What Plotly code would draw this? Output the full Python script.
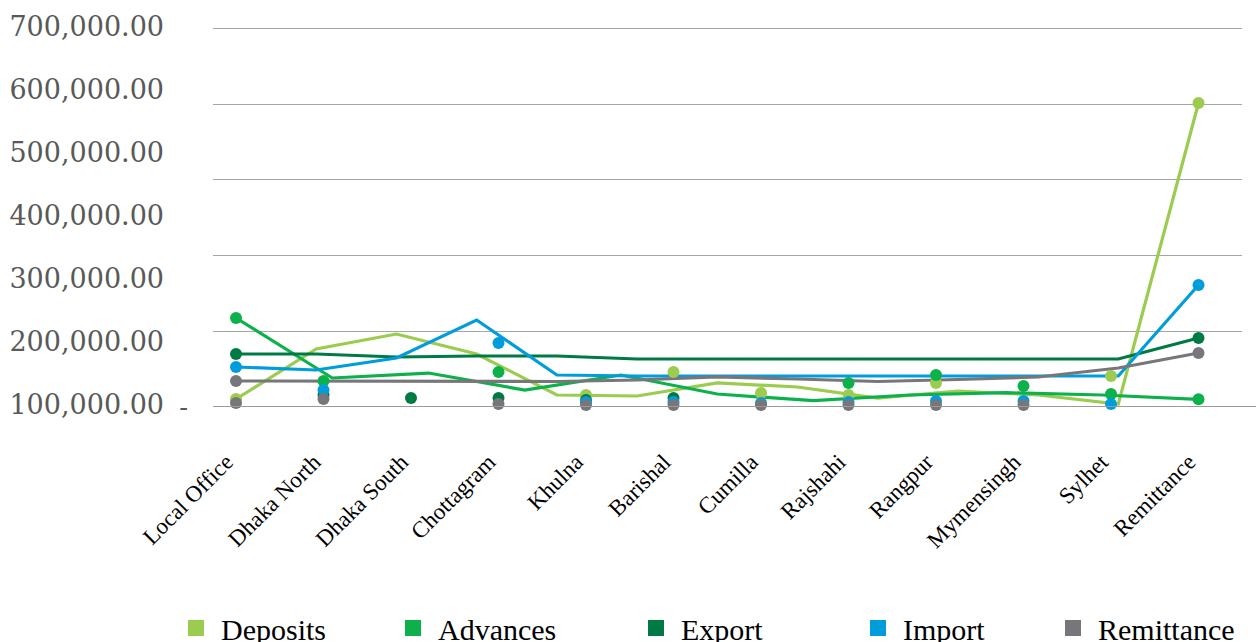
import plotly.graph_objects as go

branches = ["Local Office", "Dhaka North", "Dhaka South", "Chottagram", "Khulna", "Barishal",
            "Cumilla", "Rajshahi", "Rangpur", "Mymensingh", "Sylhet", "Remittance"]
series_names = ["Deposits", "Advances", "Export", "Import", "Remittance"]
colors = ["#9BCB4F", "#0DB14B", "#007A45", "#009DDC", "#77777B"]

# Trend profiles (evenly spread across the branch axis)
deposits_line = [14800, 107200, 134900, 98000, 22200, 20300, 44400, 37000, 16600, 29600, 22200, 5500, 561900]
advances_line = [164500, 53600, 62800, 31400, 59100, 24000, 11600, 22200, 26400, 22200, 14200]
export_line = [98000, 98000, 92400, 94300, 94300, 88700, 88700, 88700, 88700, 88700, 88700, 88700, 127500]
import_line = [73900, 68400, 90600, 160800, 59100, 57300, 57300, 57300, 57300, 57300, 57300, 57300, 225500]
remittance_line = [48100, 48100, 47100, 47100, 47100, 49900, 55500, 51800, 47100, 50800, 55500, 72100, 99800]

# Branch-level points
deposits_pts = [None, None, None, None, 22200, 64700, 25900, 22200, 44400, None, 57300, None]
advances_pts = [None, 48100, None, 64700, None, None, None, 44400, 59100, 38800, 24000, None]
export_pts = [None, 22200, 16600, 16600, 12900, 16600, None, None, None, None, None, None]
import_pts = [None, 31400, None, 118300, 9200, 9200, 7400, 9200, 11100, 11100, 5500, None]
remittance_pts = [7400, 14800, None, 5500, 3700, 3700, 3700, 3700, 3700, 3700, None, None]

grid_vals = [0, 140000, 280000, 420000, 560000, 700000]
grid_text = ["-", "", "", "", "", ""]
label_vals = [100000, 200000, 300000, 400000, 500000, 600000, 700000]
label_text = ["100,000.00", "200,000.00", "300,000.00", "400,000.00",
              "500,000.00", "600,000.00", "700,000.00"]

lines = [deposits_line, advances_line, export_line, import_line, remittance_line]
points = [deposits_pts, advances_pts, export_pts, import_pts, remittance_pts]

fig = go.Figure()
span = len(branches) - 1
x_range = [-0.263, 11.497]
label_shift = 0.11  # branch names sit slightly left of their tick

for name, color, vals in zip(series_names, colors, lines):
    n = len(vals)
    xs = [i * span / (n - 1) for i in range(n)]
    sizes = [12 if i in (0, n - 1) else 0 for i in range(n)]
    fig.add_trace(go.Scatter(
        x=xs, y=vals, mode="lines+markers", name=name, showlegend=False,
        line=dict(color=color, width=3.2),
        marker=dict(color=color, size=sizes, opacity=1, line=dict(width=0)),
        cliponaxis=False, hoverinfo="skip"))

for name, color, vals in zip(series_names, colors, points):
    fig.add_trace(go.Scatter(
        x=list(range(len(branches))), y=vals, mode="markers", name=name, showlegend=False,
        marker=dict(color=color, size=12, opacity=1, line=dict(width=0)), cliponaxis=False))

# One legend per entry so each swatch sits at its own spot
legend_x = [171, 388, 631, 853, 1048]
for i, (name, color) in enumerate(zip(series_names, colors)):
    key = "legend" if i == 0 else f"legend{i + 1}"
    fig.add_trace(go.Scatter(
        x=[None], y=[None], mode="markers", name=name, legend=key,
        marker=dict(color=color, size=18, symbol="square")))
    fig.update_layout({key: dict(
        xref="container", yref="container", x=legend_x[i] / 1258, y=1 - 628 / 642,
        xanchor="left", yanchor="middle", bgcolor="rgba(0,0,0,0)", itemwidth=40,
        font=dict(family="Liberation Serif", size=30, color="#000000"))})

# Secondary axes that carry the value labels and the branch names
fig.add_trace(go.Scatter(x=[0, 1], y=[100000, 100000], xaxis="x2", yaxis="y2", mode="lines",
                         line=dict(width=0), showlegend=False, hoverinfo="skip"))

fig.add_shape(type="line", xref="paper", yref="y", x0=0, x1=(1256 - 213) / 1029,
              y0=0, y1=0, line=dict(color="#9A9A9A", width=2))

fig.update_layout(
    width=1258, height=642,
    margin=dict(l=213, r=16, t=15, b=235, autoexpand=False),
    paper_bgcolor="white", plot_bgcolor="white",
    xaxis=dict(
        range=x_range, tickvals=list(range(len(branches))), showticklabels=False,
        showgrid=False, zeroline=False, showline=False, ticks="", automargin=False),
    xaxis2=dict(
        overlaying="x", side="bottom", anchor="y",
        range=[x_range[0] + label_shift, x_range[1] + label_shift],
        tickvals=list(range(len(branches))), ticktext=branches,
        tickangle=-45, showgrid=False, zeroline=False, showline=False, ticks="",
        ticklabelstandoff=36, automargin=False,
        tickfont=dict(family="Liberation Serif", size=23, color="#000000")),
    yaxis=dict(
        range=[0, 724580], tickvals=grid_vals, ticktext=grid_text, automargin=False,
        showgrid=True, gridcolor="#A6A6A6", gridwidth=1, zeroline=False, showline=False,
        ticks="", ticklabelstandoff=24,
        tickfont=dict(family="DejaVu Serif", size=26, color="#595959")),
    yaxis2=dict(
        overlaying="y", side="left", range=[96825, 719048], automargin=False,
        tickvals=label_vals, ticktext=label_text, showgrid=False, zeroline=False,
        showline=False, ticks="", ticklabelstandoff=48,
        tickfont=dict(family="DejaVu Serif", size=27, color="#595959")),
)

fig.write_html("out.html")
